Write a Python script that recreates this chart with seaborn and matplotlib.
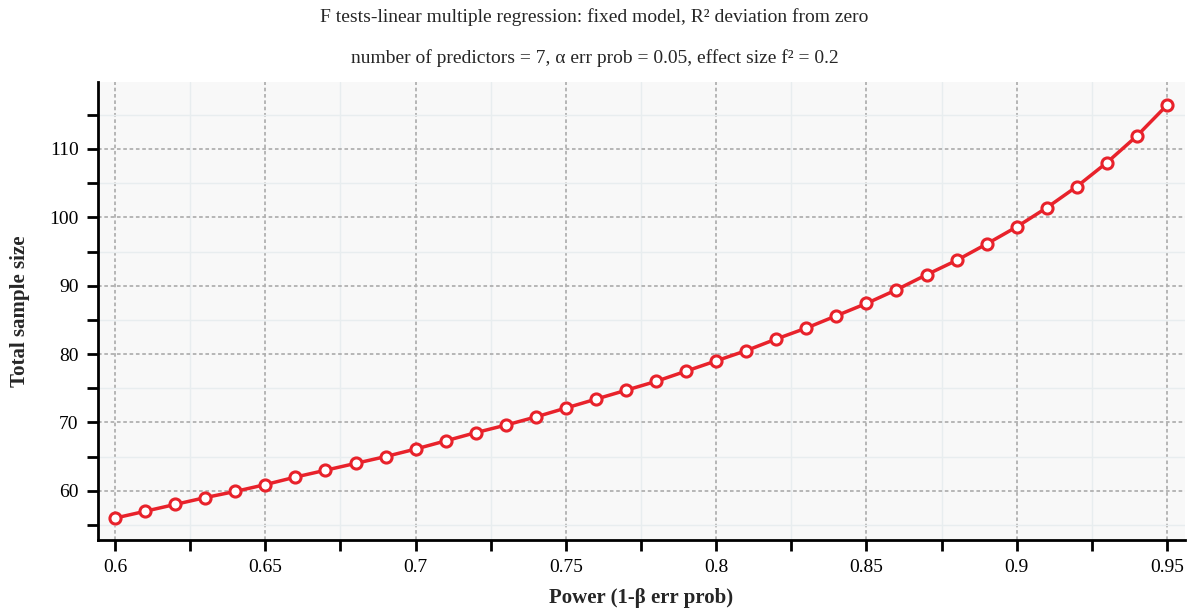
import numpy as np
import pandas as pd
import seaborn as sns
import matplotlib.pyplot as plt
from matplotlib.ticker import MultipleLocator

# Power values and total sample size
power = [0.60, 0.61, 0.62, 0.63, 0.64, 0.65, 0.66, 0.67, 0.68, 0.69,
         0.70, 0.71, 0.72, 0.73, 0.74, 0.75, 0.76, 0.77, 0.78, 0.79,
         0.80, 0.81, 0.82, 0.83, 0.84, 0.85, 0.86, 0.87, 0.88, 0.89,
         0.90, 0.91, 0.92, 0.93, 0.94, 0.95]
sample_size = [56.0, 57.0, 58.0, 59.0, 59.9, 60.9, 62.0, 63.0, 64.0, 65.0,
               66.1, 67.3, 68.5, 69.6, 70.8, 72.1, 73.4, 74.7, 76.0, 77.5,
               79.0, 80.5, 82.2, 83.8, 85.6, 87.4, 89.4, 91.6, 93.7, 96.1,
               98.6, 101.4, 104.5, 108.0, 111.9, 116.4]

title1 = "F tests-linear multiple regression: fixed model, R² deviation from zero"
title2 = "number of predictors = 7, α err prob = 0.05, effect size f² = 0.2"

sns.set_style("ticks")
plt.rcParams['font.family'] = ['Liberation Serif', 'DejaVu Serif']

df = pd.DataFrame({'Power (1-β err prob)': power, 'Total sample size': sample_size})

fig = plt.figure(figsize=(11.89, 6.10), dpi=100)
ax = fig.add_axes([0.0824, 0.1148, 0.9142, 0.7508])
ax.set_facecolor('#f8f8f8')

sns.lineplot(data=df, x='Power (1-β err prob)', y='Total sample size', ax=ax,
             color='#e8222b', linewidth=2.5, marker='o', markersize=8,
             markerfacecolor='white', markeredgecolor='#e8222b', markeredgewidth=2.2,
             zorder=5)

ax.set_xlim(0.5943, 0.956)
ax.set_ylim(52.8, 119.8)
ax.xaxis.set_major_locator(MultipleLocator(0.05))
ax.xaxis.set_minor_locator(MultipleLocator(0.025))
ax.yaxis.set_major_locator(MultipleLocator(10))
ax.yaxis.set_minor_locator(MultipleLocator(5))
ax.set_xticks(np.arange(0.6, 0.951, 0.05))
ax.set_xticklabels(['0.6', '0.65', '0.7', '0.75', '0.8', '0.85', '0.9', '0.95'])
ax.set_yticks([60, 70, 80, 90, 100, 110])

ax.grid(which='major', color='#b0b0b0', linestyle=(0, (2, 1.5)), linewidth=1.3)
ax.grid(which='minor', color='#e8edef', linestyle='-', linewidth=1)
ax.set_axisbelow(True)

sns.despine(ax=ax)
for s in ['left', 'bottom']:
    ax.spines[s].set_linewidth(2)
    ax.spines[s].set_color('black')
ax.tick_params(which='both', direction='out', length=8, width=2, colors='black')
ax.tick_params(which='major', labelsize=14, pad=6)

ax.set_xlabel('Power (1-β err prob)', fontsize=15, fontweight='bold', labelpad=8)
ax.set_ylabel('Total sample size', fontsize=15, fontweight='bold', labelpad=14)

fig.text(0.5, 0.972, title1, ha='center', va='center', fontsize=14)
fig.text(0.5, 0.905, title2, ha='center', va='center', fontsize=14)

plt.savefig('out.png', dpi=100)
